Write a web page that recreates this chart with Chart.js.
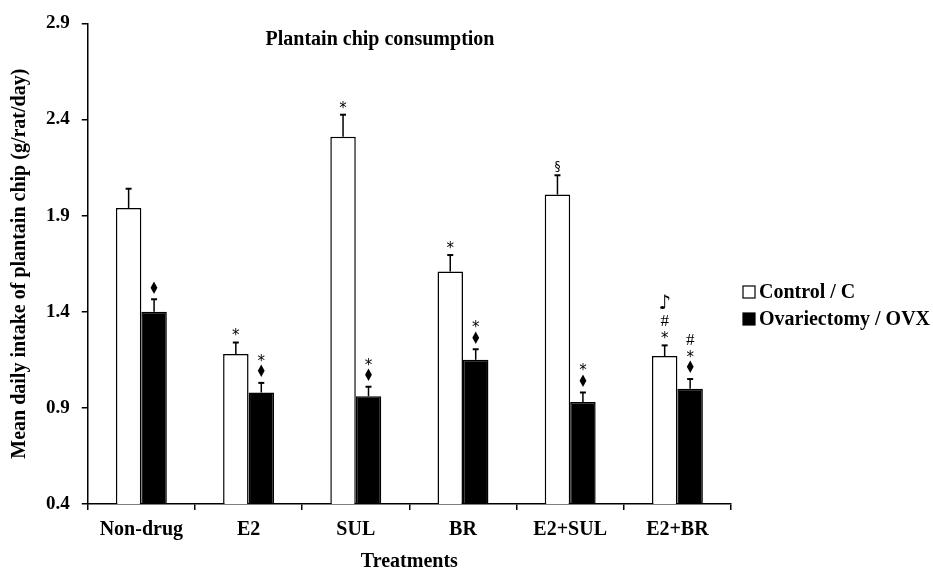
<!DOCTYPE html>
<html>
<head>
<meta charset="utf-8">
<script src="https://cdn.jsdelivr.net/npm/chart.js@4.4.1/dist/chart.umd.min.js"></script>
<style>
  html, body { margin: 0; padding: 0; background: #fff; }
  #wrap { width: 933px; height: 568px; }
</style>
</head>
<body>
<div id="wrap"><canvas id="myChart"></canvas></div>
<script>
let treatments = ['Non-drug', 'E2', 'SUL', 'BR', 'E2+SUL', 'E2+BR']
let seriesNames = ['Control / C', 'Ovariectomy / OVX']

let controlMean = [1.94, 1.18, 2.31, 1.61, 2.01, 1.17]
let controlErr = [0.10, 0.06, 0.115, 0.085, 0.10, 0.055]
let ovxMean = [1.40, 0.98, 0.96, 1.15, 0.93, 1.00]
let ovxErr = [0.065, 0.05, 0.05, 0.055, 0.05, 0.05]

// significance marks, listed from bottom to top
let controlMarks = [[], ['*'], ['*'], ['*'], ['§'], ['*', '#', '♪']]
let ovxMarks = [['♦'], ['♦', '*'], ['♦', '*'], ['♦', '*'], ['♦', '*'], ['♦', '*', '#']]

let yTicks = [0.4, 0.9, 1.4, 1.9, 2.4, 2.9]

const serif = '"Liberation Serif", "Times New Roman", serif'

let markStyle = {
  '*': { font: '15px "DejaVu Sans"', h: 12, dy: 3, sx: 1 },
  '#': { font: '17px ' + serif, h: 15, dy: 0, sx: 1 },
  '♦': { font: '17px "DejaVu Sans"', h: 14, dy: 0, sx: 0.72 },
  '♪': { font: '20px "DejaVu Sans"', h: 20, dy: 0, sx: 1 },
  '§': { font: '12px "DejaVu Sans"', h: 11, dy: 0, sx: 1 }
}

let errorBars = {
  id: 'errorBars',
  afterDatasetsDraw(chart) {
    let ctx = chart.ctx
    let y = chart.scales.y
    let means = [controlMean, ovxMean]
    let errs = [controlErr, ovxErr]
    let marks = [controlMarks, ovxMarks]
    chart.data.datasets.forEach((ds, d) => {
      chart.getDatasetMeta(d).data.forEach((bar, i) => {
        let top = y.getPixelForValue(means[d][i] + errs[d][i])
        ctx.save()
        ctx.strokeStyle = '#000'
        ctx.lineWidth = 1.5
        ctx.beginPath()
        ctx.moveTo(bar.x, bar.y)
        ctx.lineTo(bar.x, top)
        ctx.stroke()
        ctx.lineWidth = 2
        ctx.beginPath()
        ctx.moveTo(bar.x - 3, top)
        ctx.lineTo(bar.x + 3, top)
        ctx.stroke()

        let cursor = top - 3
        ctx.fillStyle = '#000'
        ctx.textAlign = 'center'
        ctx.textBaseline = 'middle'
        marks[d][i].forEach(m => {
          let st = markStyle[m]
          let cy = cursor - st.h / 2
          ctx.font = st.font
          ctx.save()
          ctx.translate(bar.x, cy + st.dy)
          ctx.scale(st.sx, 1)
          ctx.fillText(m, 0, 0)
          ctx.restore()
          cursor -= st.h + 1
        })
        ctx.restore()
      })
    })
  }
}

let titleAndLegend = {
  id: 'titleAndLegend',
  afterDraw(chart) {
    let ctx = chart.ctx
    ctx.save()
    ctx.fillStyle = '#000'
    ctx.font = 'bold 20px ' + serif
    ctx.textAlign = 'center'
    ctx.textBaseline = 'middle'
    ctx.fillText('Plantain chip consumption', 380, 40)

    let fills = ['#fff', '#000']
    ctx.textAlign = 'left'
    seriesNames.forEach((name, k) => {
      let cy = 292 + k * 27
      ctx.fillStyle = fills[k]
      ctx.fillRect(743, cy - 6, 12, 12)
      ctx.strokeStyle = '#000'
      ctx.lineWidth = 1.2
      ctx.strokeRect(743, cy - 6, 12, 12)
      ctx.fillStyle = '#000'
      ctx.fillText(name, 759, cy + 1)
    })
    ctx.restore()
  }
}

let ctx = document.getElementById('myChart').getContext('2d')

let myChart = new Chart(ctx, {
  type: 'bar',
  data: {
    labels: treatments,
    datasets: [
      {
        label: seriesNames[0],
        data: controlMean,
        backgroundColor: '#fff',
        borderColor: '#000',
        borderWidth: 1.5,
        categoryPercentage: 0.475,
        barPercentage: 1.0
      },
      {
        label: seriesNames[1],
        data: ovxMean,
        backgroundColor: '#000',
        borderColor: '#000',
        borderWidth: 1.5,
        categoryPercentage: 0.475,
        barPercentage: 1.0
      }
    ]
  },
  options: {
    responsive: true,
    maintainAspectRatio: false,
    animation: false,
    layout: { padding: { top: 16, right: 202, left: 8, bottom: -4 } },
    plugins: {
      legend: { display: false },
      tooltip: { enabled: false }
    },
    scales: {
      x: {
        offset: true,
        grid: { offset: true, drawOnChartArea: false, tickLength: 6, color: '#000', lineWidth: 1.5 },
        border: { color: '#000', width: 1.5 },
        ticks: { color: '#000', font: { family: serif, size: 20, weight: 'bold' }, padding: 8, maxRotation: 0 },
        title: { display: true, text: 'Treatments', color: '#000', font: { family: serif, size: 20, weight: 'bold', lineHeight: 1 }, padding: { top: 2, bottom: 0 } }
      },
      y: {
        min: 0.4,
        max: 2.9,
        afterBuildTicks(axis) { axis.ticks = yTicks.map(v => ({ value: v })) },
        grid: { drawOnChartArea: false, tickLength: 6, color: '#000', lineWidth: 1.5 },
        border: { color: '#000', width: 1.5 },
        ticks: { color: '#000', font: { family: serif, size: 19, weight: 'bold' }, padding: 12, callback: v => v.toFixed(1) },
        title: { display: true, text: 'Mean daily intake of plantain chip (g/rat/day)', color: '#000', font: { family: serif, size: 20, weight: 'bold' }, padding: { top: 0, bottom: 2 } }
      }
    }
  },
  plugins: [errorBars, titleAndLegend]
})
</script>
</body>
</html>
